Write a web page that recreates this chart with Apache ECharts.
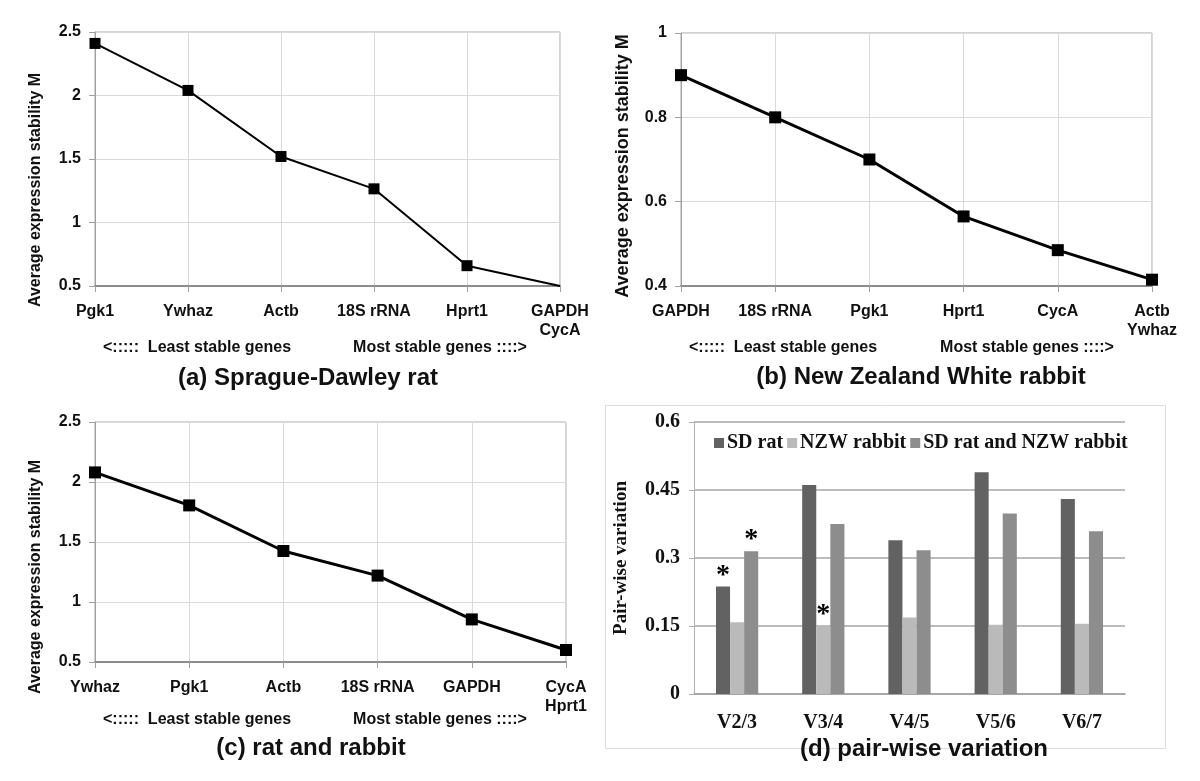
<!DOCTYPE html>
<html>
<head>
<meta charset="utf-8">
<script src="https://cdn.jsdelivr.net/npm/echarts/dist/echarts.min.js"></script>
<style>
html,body{margin:0;padding:0;background:#fff;}
#chart{width:1200px;height:781px;}
</style>
</head>
<body>
<div id="chart"></div>
<script>
// ---- data ----
var catsA = ['Pgk1', 'Ywhaz', 'Actb', '18S rRNA', 'Hprt1', 'GAPDH\nCycA'];
var valsA = [2.41, 2.04, 1.52, 1.265, 0.66, 0.5];

var catsB = ['GAPDH', '18S rRNA', 'Pgk1', 'Hprt1', 'CycA', 'Actb\nYwhaz'];
var valsB = [0.90, 0.80, 0.70, 0.565, 0.485, 0.415];

var catsC = ['Ywhaz', 'Pgk1', 'Actb', '18S rRNA', 'GAPDH', 'CycA\nHprt1'];
var valsC = [2.08, 1.805, 1.425, 1.22, 0.855, 0.60];

var catsD = ['V2/3', 'V3/4', 'V4/5', 'V5/6', 'V6/7'];
var sdRat = [0.237, 0.461, 0.339, 0.489, 0.430];
var nzwRabbit = [0.158, 0.150, 0.169, 0.153, 0.155];
var combined = [0.315, 0.375, 0.317, 0.398, 0.359];
var starSD = [true, false, false, false, false];
var starNZW = [false, true, false, false, false];
var starComb = [true, false, false, false, false];

var seriesNames = ['SD rat', 'NZW rabbit', 'SD rat and NZW rabbit'];
var titles = ['(a) Sprague-Dawley rat', '(b) New Zealand White rabbit', '(c) rat and rabbit', '(d) pair-wise variation'];
var yNameM = 'Average expression stability M';
var yNameD = 'Pair-wise variation';
var leastTxt = '<:::::  Least stable genes';
var mostTxt = 'Most stable genes ::::>';

// ---- chart ----
var SANS = '"Liberation Sans", Arial, sans-serif';
var SERIF = '"Liberation Serif", "Times New Roman", serif';
var chart = echarts.init(document.getElementById('chart'), null, {renderer: 'canvas'});

function lineX(idx, cats) {
  return {
    type: 'category', gridIndex: idx, data: cats, boundaryGap: false,
    axisLine: {lineStyle: {color: '#8c8c8c', width: 2}},
    axisTick: {show: true, length: 6, lineStyle: {color: '#a0a0a0'}},
    axisLabel: {interval: 0, color: '#111', fontFamily: SANS, fontWeight: 'bold', fontSize: 16, lineHeight: 19, margin: 16},
    splitLine: {show: true, lineStyle: {color: '#dadada', width: 1}}
  };
}
function lineY(idx, min, max, interval) {
  return {
    type: 'value', gridIndex: idx, min: min, max: max, interval: interval,
    axisLine: {show: true, lineStyle: {color: '#a0a0a0', width: 1}},
    axisTick: {show: true, length: 6, lineStyle: {color: '#a0a0a0'}},
    axisLabel: {color: '#111', fontFamily: SANS, fontWeight: 'bold', fontSize: 16, margin: 14},
    splitLine: {show: true, lineStyle: {color: '#dadada', width: 1}}
  };
}
function lineSeries(idx, vals, width, size, hideLast) {
  return {
    type: 'line', xAxisIndex: idx, yAxisIndex: idx,
    data: vals.map(function (v, i) {
      return (hideLast && i === vals.length - 1) ? {value: v, symbolSize: 0} : v;
    }),
    symbol: 'rect', symbolSize: size, showAllSymbol: true,
    lineStyle: {color: '#000', width: width},
    itemStyle: {color: '#000'},
    clip: false, z: 5
  };
}
function barSeries(name, vals, stars, color) {
  return {
    type: 'bar', name: name, xAxisIndex: 3, yAxisIndex: 3,
    data: vals.map(function (v, i) {
      return stars[i] ? {value: v, label: {show: true}} : v;
    }),
    barGap: '0%', barCategoryGap: '51%',
    itemStyle: {color: color},
    label: {show: false, position: 'top', distance: -3, formatter: '*', color: '#000',
            fontFamily: SERIF, fontWeight: 'bold', fontSize: 28}
  };
}
function txt(x, y, s, size, font, rot) {
  return {
    type: 'text', x: x, y: y, rotation: rot || 0,
    style: {text: s, fontSize: size, fontFamily: font || SANS, fontWeight: 'bold', fill: '#111',
            textAlign: 'center', textVerticalAlign: 'middle'}
  };
}

var option = {
  animation: false,
  backgroundColor: '#fff',
  grid: [
    {left: 95, top: 32, width: 465, height: 254, show: true, borderColor: '#a6a6a6', borderWidth: 1},
    {left: 681, top: 33, width: 471, height: 253, show: true, borderColor: '#a6a6a6', borderWidth: 1},
    {left: 95, top: 422, width: 471, height: 240, show: true, borderColor: '#a6a6a6', borderWidth: 1},
    {left: 694, top: 422, width: 431, height: 272}
  ],
  xAxis: [
    lineX(0, catsA), lineX(1, catsB), lineX(2, catsC),
    {
      type: 'category', gridIndex: 3, data: catsD,
      axisLine: {lineStyle: {color: '#a0a0a0', width: 1.5}},
      axisTick: {show: false},
      axisLabel: {color: '#111', fontFamily: SERIF, fontWeight: 'bold', fontSize: 20, margin: 19}
    }
  ],
  yAxis: [
    lineY(0, 0.5, 2.5, 0.5), lineY(1, 0.4, 1, 0.2), lineY(2, 0.5, 2.5, 0.5),
    {
      type: 'value', gridIndex: 3, min: 0, max: 0.6, interval: 0.15,
      axisLine: {show: true, lineStyle: {color: '#b0b0b0', width: 1}},
      axisTick: {show: true, length: 5, lineStyle: {color: '#b0b0b0'}},
      axisLabel: {color: '#111', fontFamily: SERIF, fontWeight: 'bold', fontSize: 20, margin: 14},
      splitLine: {show: true, lineStyle: {color: '#a6a6a6', width: 1.5}}
    }
  ],
  legend: {
    left: 709, top: 428, itemWidth: 10, itemHeight: 10, itemGap: 4, icon: 'rect',
    textStyle: {fontFamily: SERIF, fontWeight: 'bold', fontSize: 20, color: '#111', padding: [0, 0, 0, -2]},
    data: seriesNames
  },
  series: [
    lineSeries(0, valsA, 2, 11, true),
    lineSeries(1, valsB, 3, 12, false),
    lineSeries(2, valsC, 3, 12, false),
    barSeries(seriesNames[0], sdRat, starSD, '#626262'),
    barSeries(seriesNames[1], nzwRabbit, starNZW, '#bababa'),
    barSeries(seriesNames[2], combined, starComb, '#8d8d8d')
  ],
  graphic: [
    {type: 'rect', left: 603, top: 403, shape: {width: 560, height: 343},
     style: {fill: 'none', stroke: '#dcdcdc', lineWidth: 1}, z: -1},
    txt(36, 190, yNameM, 16, SANS, Math.PI / 2),
    txt(623, 166, yNameM, 18, SANS, Math.PI / 2),
    txt(36, 577, yNameM, 16, SANS, Math.PI / 2),
    txt(621, 558, yNameD, 19, SERIF, Math.PI / 2),
    txt(197, 348, leastTxt, 16), txt(440, 348, mostTxt, 16),
    txt(783, 348, leastTxt, 16), txt(1027, 348, mostTxt, 16),
    txt(197, 720, leastTxt, 16), txt(440, 720, mostTxt, 16),
    txt(308, 378, titles[0], 24), txt(921, 377, titles[1], 24),
    txt(311, 748, titles[2], 24), txt(924, 749, titles[3], 24)
  ]
};
chart.setOption(option);
</script>
</body>
</html>
